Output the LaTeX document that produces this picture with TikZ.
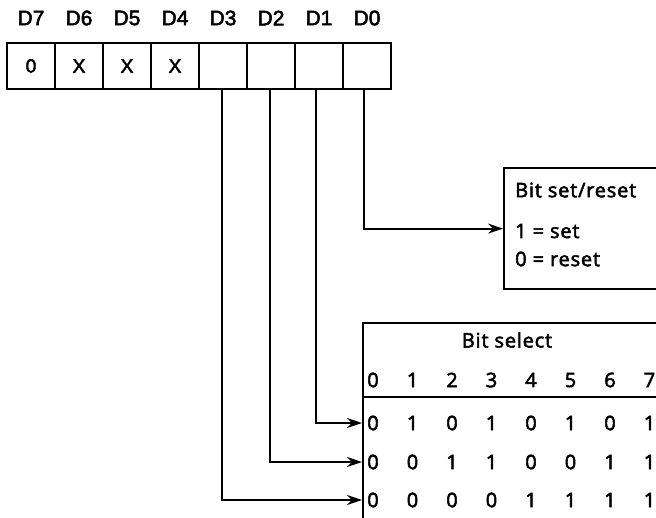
\documentclass[tikz,border=0pt]{standalone}
\usepackage{fontspec}
\setmainfont[RawFeature={embolden=2.5}]{Liberation Sans}
\newfontfamily\boxfont[LetterSpace=4,RawFeature={embolden=2.5}]{Open Sans}
\usetikzlibrary{arrows.meta}
\begin{document}
\begin{tikzpicture}[x=1pt,y=-1pt,
  cell/.style={draw,line width=2pt,minimum width=48pt,minimum height=46pt,inner sep=0pt,font=\fontsize{19}{19}\selectfont},
  dlabel/.style={font=\fontsize{21}{21}\selectfont,inner sep=0pt},
  panel/.style={draw,line width=2.2pt,inner sep=0pt,anchor=north west},
  btext/.style={font=\boxfont\fontsize{20}{20}\selectfont,inner sep=0pt,anchor=west},
  num/.style={font=\boxfont\fontsize{20}{20}\selectfont,inner sep=0pt},
  wire/.style={line width=1.8pt,-{Stealth[length=15pt,width=10pt]}}
]
\clip (0,0) rectangle (656,517);
\fill[white] (0,0) rectangle (656,517);
% register cells
\foreach \i/\v [count=\k from 0] in {7/0,6/X,5/X,4/X,3/,2/,1/,0/}{
  \node[cell] (d\i) at (31+48*\k,66) {\v};
  \node[dlabel] (l\i) at (31+48*\k,18) {D\i};
}
% bit set/reset box
\node[panel,minimum width=200pt,minimum height=121pt] (bsr) at (503,167) {};
\node[btext] (t1) at (515,190) {Bit set/reset};
\node[btext] (t2) at (515,231) {1 = set};
\node[btext] (t3) at (515,259) {0 = reset};
% bit select box
\node[panel,minimum width=340pt,minimum height=240pt] (bs) at (362,322) {};
\draw[line width=2pt] (bs.west |- 0,397) -- (bs.east |- 0,397);
\node[font=\boxfont\fontsize{20}{20}\selectfont,inner sep=0pt] (title) at (507,340) {Bit select};
\foreach \c in {0,...,7}{
  \node[num] (h\c) at (373+39.5*\c,380) {\c};
}
\foreach \r/\y/\vals in {1/423/{0,1,0,1,0,1,0,1},2/462/{0,0,1,1,0,0,1,1},3/500/{0,0,0,0,1,1,1,1}}{
  \foreach \v [count=\c from 0] in \vals {
    \node[num] (r\r c\c) at (373+39.5*\c,\y) {\v};
  }
}
% connectors
\draw[wire] ([xshift=-3pt]d0.south) |- (bsr.west);
\draw[wire] ([xshift=-3pt]d1.south) |- (bs.west |- r1c0);
\draw[wire] ([xshift=-1pt]d2.south) |- (bs.west |- r2c0);
\draw[wire] ([xshift=-1pt]d3.south) |- (bs.west |- r3c0);
\end{tikzpicture}
\end{document}
